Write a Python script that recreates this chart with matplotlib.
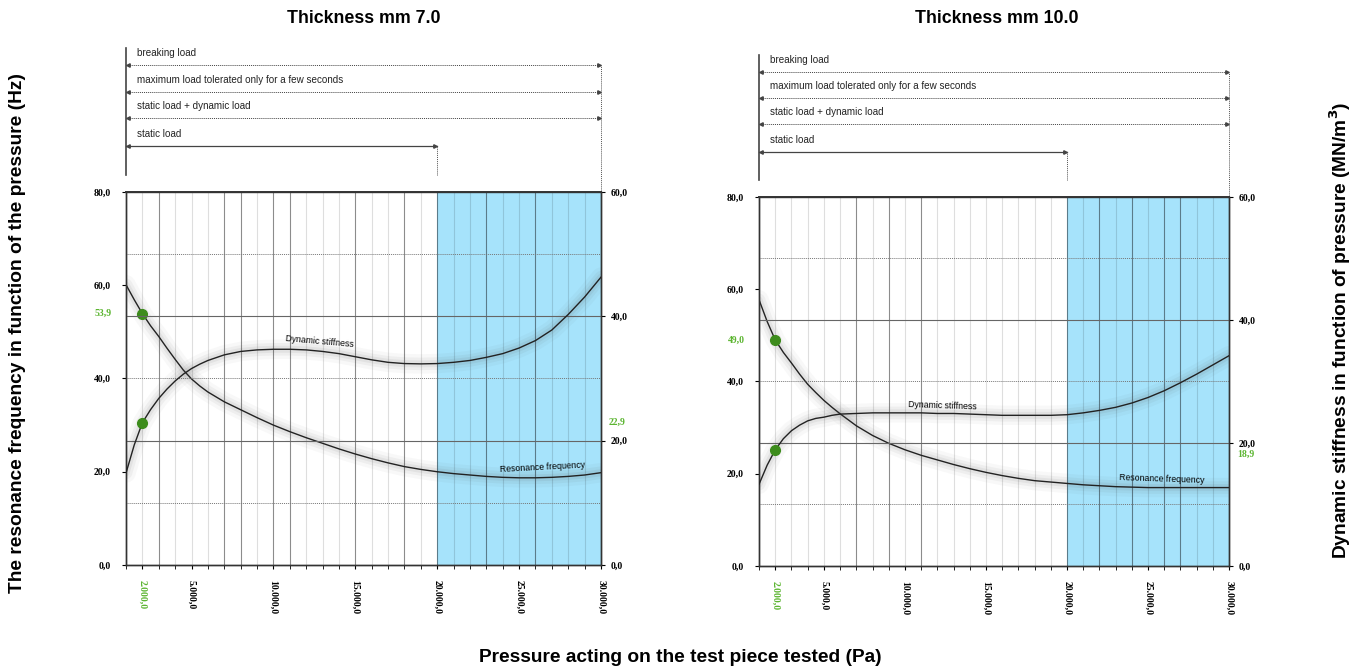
import matplotlib
matplotlib.use('Agg')
import matplotlib.pyplot as plt
from matplotlib.transforms import offset_copy

plt.rcParams['font.family'] = 'Liberation Sans'

# pressure points (Pa), denser where the curves bend
pressure = [1000, 1500, 2000, 2500, 3000, 3500, 4000, 4500, 5000, 5500, 6000,
            7000, 8000, 9000, 10000, 11000, 12000, 13000, 14000, 15000, 16000,
            17000, 18000, 19000, 20000, 21000, 22000, 23000, 24000, 25000, 26000,
            27000, 28000, 29000, 30000]
grid_p = list(range(2000, 30000, 1000))

# thickness 7 mm
freq_7 = [60.1, 56.9, 53.9, 51.3, 49.0, 46.5, 44.1, 41.8, 39.9, 38.4, 37.1,
          35.0, 33.3, 31.6, 30.0, 28.6, 27.3, 26.1, 24.9, 23.8, 22.8,
          21.9, 21.1, 20.5, 20.0, 19.6, 19.3, 19.0, 18.8, 18.7, 18.7,
          18.8, 19.0, 19.3, 19.8]
stiff_7 = [14.8, 19.3, 22.9, 25.0, 26.8, 28.3, 29.6, 30.7, 31.6, 32.3, 32.9,
           33.8, 34.35, 34.6, 34.7, 34.7, 34.6, 34.35, 34.0, 33.5, 33.0,
           32.6, 32.4, 32.35, 32.4, 32.6, 32.9, 33.4, 34.0, 34.9, 36.1,
           37.8, 40.3, 43.1, 46.3]

# thickness 10 mm
freq_10 = [57.7, 53.0, 49.0, 46.3, 44.0, 41.6, 39.4, 37.6, 35.9, 34.4, 33.0,
           30.4, 28.3, 26.6, 25.2, 24.0, 23.0, 22.0, 21.1, 20.3, 19.6,
           19.0, 18.5, 18.2, 17.9, 17.6, 17.4, 17.2, 17.1, 17.0, 17.0,
           17.0, 17.0, 17.0, 17.0]
stiff_10 = [13.3, 16.4, 18.9, 20.7, 22.0, 22.9, 23.6, 24.0, 24.2, 24.5, 24.7,
            24.8, 24.9, 24.9, 24.9, 24.9, 24.8, 24.8, 24.7, 24.6, 24.5,
            24.5, 24.5, 24.5, 24.6, 24.9, 25.3, 25.8, 26.5, 27.4, 28.5,
            29.8, 31.2, 32.7, 34.2]

x_labels = [2000, 5000, 10000, 15000, 20000, 25000, 30000]
left_ticks = [0, 20, 40, 60, 80]
right_ticks = [0, 20, 40, 60]

load_names = ['breaking load', 'maximum load tolerated only for a few seconds',
              'static load + dynamic load', 'static load']
load_ends = [30000, 30000, 30000, 20000]
load_y = [1.34, 1.268, 1.198, 1.123]

mark_p = 2000
freq_marks = [53.9, 49.0]
stiff_marks = [22.9, 18.9]

GREEN_TXT = '#5cb531'
GREEN_DOT = '#3d8c1c'
BLUE = '#a6e3fb'


def fmt(v):
    s = f"{v:,.1f}"
    return s.replace(',', 'X').replace('.', ',').replace('X', '.')


num_font = dict(family='Liberation Serif', weight='bold', size=7)

fig = plt.figure(figsize=(13.64, 6.68), dpi=100)


def draw_panel(rect, title, title_x, freq, stiff, f_mark, s_mark, dark, lbls, s_va):
    ax = fig.add_axes(rect)
    ax2 = ax.twinx()
    ax.set_xlim(1000, 30000)
    ax.set_ylim(0, 80)
    ax2.set_ylim(0, 60)

    ax.axvspan(20000, 30000, color=BLUE, zorder=0, lw=0)
    for p in grid_p:
        ax.axvline(p, color='k', alpha=0.45 if p in dark else 0.13, lw=0.8, zorder=1)
    for v in [10, 30, 50]:
        ax2.axhline(v, color='#777777', lw=0.7, ls=(0, (1, 1)), zorder=1)
    for v in [20, 40]:
        ax2.axhline(v, color='#666666', lw=0.8, zorder=1)

    # soft glow under the curves
    for lw, a in [(14, 0.04), (9, 0.06), (5, 0.08)]:
        ax.plot(pressure, freq, color='#555555', lw=lw, alpha=a, solid_capstyle='round', zorder=2)
        ax2.plot(pressure, stiff, color='#555555', lw=lw, alpha=a, solid_capstyle='round', zorder=2)
    ax.plot(pressure, freq, color='#222222', lw=1.0, zorder=3)
    ax2.plot(pressure, stiff, color='#222222', lw=1.0, zorder=3)

    ax.plot([mark_p], [f_mark], 'o', color=GREEN_DOT, ms=7, zorder=4)
    ax2.plot([mark_p], [s_mark], 'o', color=GREEN_DOT, ms=7, zorder=4)

    # curve captions
    (sx, sy, sr), (fx, fy, fr) = lbls
    ax2.text(sx, sy, 'Dynamic stiffness', fontsize=6.3, rotation=sr, ha='center', va='center', zorder=5)
    ax.text(fx, fy, 'Resonance frequency', fontsize=6.3, rotation=fr, ha='center', va='center', zorder=5)

    # axes / ticks
    ax.set_xticks(x_labels, [fmt(v) for v in x_labels], rotation=-90, **num_font)
    ax.get_xticklabels()[0].set_color(GREEN_TXT)
    ax.set_xticks([1000] + grid_p + [30000], minor=True)
    ax.tick_params(axis='x', which='both', length=3, direction='out', pad=8)
    ax.set_yticks(left_ticks, [fmt(v) for v in left_ticks], **num_font)
    ax.tick_params(axis='y', length=3, pad=8)
    ax2.set_yticks(right_ticks, [fmt(v) for v in right_ticks], **num_font)
    ax2.tick_params(axis='y', length=3, pad=4)
    for a in (ax, ax2):
        for s in a.spines.values():
            s.set_color('#333333')
            s.set_linewidth(1.0)
    ax.spines['top'].set_linewidth(1.4)

    tl = offset_copy(ax.get_yaxis_transform(), fig=fig, x=-14, units='dots')
    ax.text(0, f_mark, fmt(f_mark), transform=tl, ha='right', va='center', color=GREEN_TXT, **num_font)
    tr = offset_copy(ax2.get_yaxis_transform(), fig=fig, x=8, units='dots')
    ax2.text(1, s_mark, fmt(s_mark), transform=tr, ha='left', va=s_va, color=GREEN_TXT, **num_font)

    # load ranges above the plot
    bt = ax.get_xaxis_transform()
    ax.plot([1000, 1000], [1.046, 1.386], transform=bt, color='#444444', lw=1.2, clip_on=False)
    for name, end, y in zip(load_names, load_ends, load_y):
        ls = '-' if end == 20000 else (0, (1, 1))
        lw = 0.9 if end == 20000 else 0.7
        ax.plot([1000, end], [y, y], transform=bt, color='#444444', lw=lw, ls=ls, clip_on=False)
        ax.plot([1150], [y], marker='<', ms=2.5, color='#444444', transform=bt, clip_on=False)
        ax.plot([end - 150], [y], marker='>', ms=2.5, color='#444444', transform=bt, clip_on=False)
        ax.text(1650, y + 0.018, name, transform=bt, fontsize=7.1, va='bottom', ha='left',
                color='#222222')
    ax.plot([20000, 20000], [1.046, load_y[3]], transform=bt, color='#555555', lw=0.7,
            ls=(0, (1, 1)), clip_on=False)
    ax.plot([30000, 30000], [1.0, load_y[0]], transform=bt, color='#555555', lw=0.7,
            ls=(0, (1, 1)), clip_on=False)

    fig.text(title_x, 0.973, title, ha='center', va='center', fontsize=12.8, fontweight='bold')


draw_panel([0.0924, 0.1542, 0.3482, 0.5584], 'Thickness mm 7.0', 0.2669, freq_7, stiff_7,
           freq_marks[0], stiff_marks[0],
           [3000, 7000, 8000, 10000, 11000, 15000, 18000, 20000, 23000, 26000],
           [(12800, 35.9, -5), (26400, 20.9, 3)], 'center')
draw_panel([0.5565, 0.1527, 0.3446, 0.5524], 'Thickness mm 10.0', 0.731, freq_10, stiff_10,
           freq_marks[1], stiff_marks[1],
           [7000, 9000, 11000, 20000, 22000, 24000, 26000, 27000],
           [(12300, 26.1, -2), (25850, 18.8, -2)], 'top')

fig.text(0.0125, 0.5015, 'The resonance frequency in function of the pressure (Hz)',
         rotation=90, ha='center', va='center', fontsize=13.8, fontweight='bold')
fig.text(0.9824, 0.506, 'Dynamic stiffness in function of pressure (MN/m$^\\mathbf{3}$)',
         rotation=90, ha='center', va='center', fontsize=13.8, fontweight='bold')
fig.text(0.4985, 0.015, 'Pressure acting on the test piece tested (Pa)',
         ha='center', va='center', fontsize=13.8, fontweight='bold')

fig.savefig('out.png', dpi=100)
